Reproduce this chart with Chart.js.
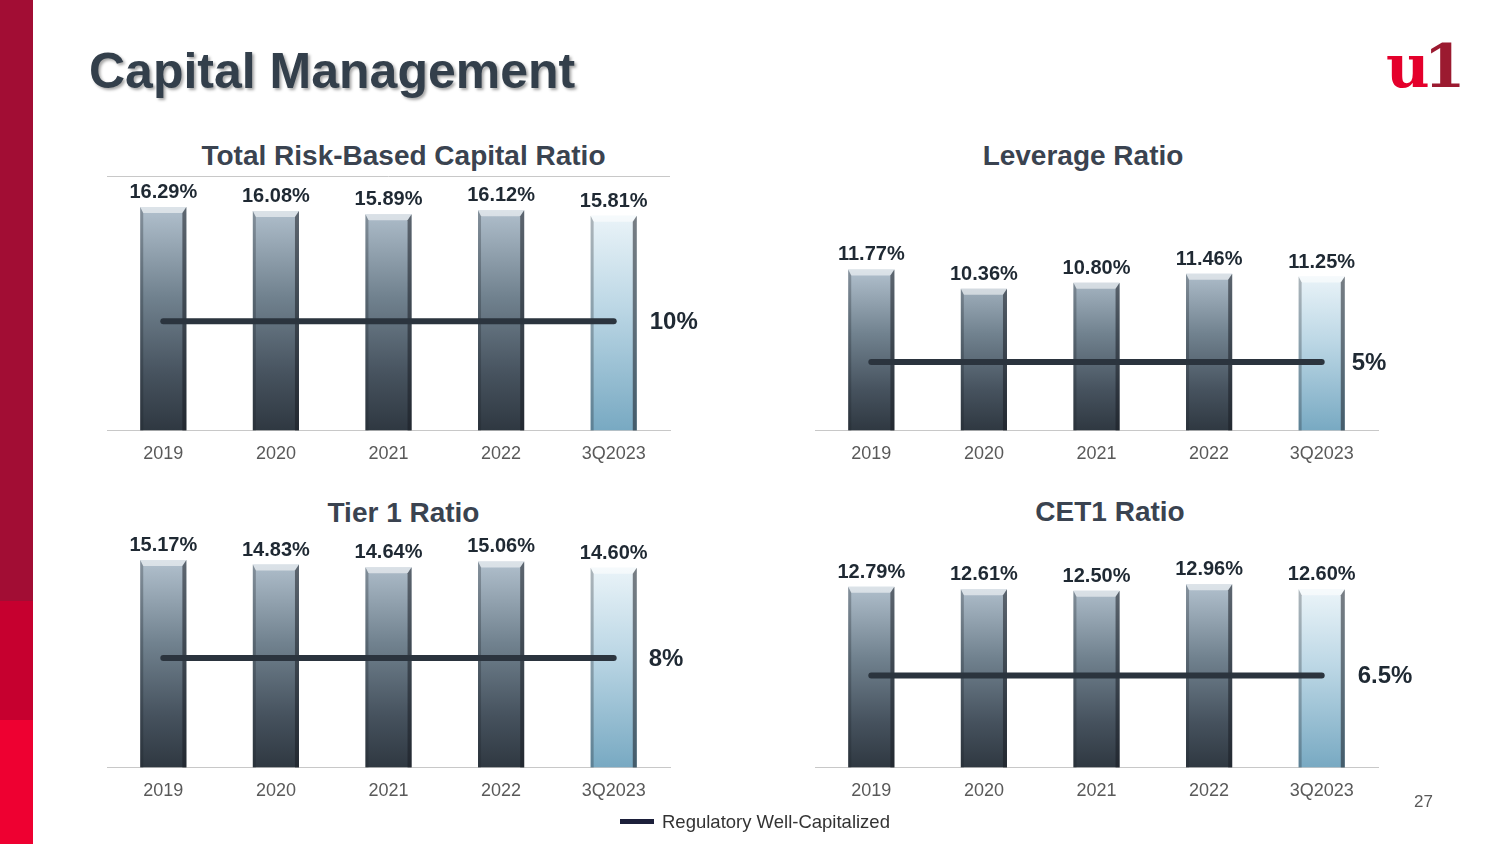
<!DOCTYPE html>
<html>
<head>
<meta charset="utf-8">
<script src="https://cdn.jsdelivr.net/npm/chart.js@4.4.0/dist/chart.umd.min.js"></script>
<style>
  body { margin: 0; width: 1500px; height: 844px; background: #ffffff; position: relative; overflow: hidden; font-family: 'Liberation Sans', Arial, sans-serif; }
  .stripe { position: absolute; left: 0; width: 33px; }
  .title { position: absolute; left: 89px; top: 42px; font-size: 50px; font-weight: bold; color: #333f4b; text-shadow: 2px 2px 3px rgba(0,0,0,0.35); }
  .chartTitle { position: absolute; font-size: 28px; font-weight: bold; color: #3a4350; text-align: center; }
  .box { position: absolute; width: 620px; height: 311px; }
  .logo { position: absolute; left: 1386px; top: 36px; font-family: 'DejaVu Serif', serif; font-weight: bold; font-size: 60px; line-height: 1; letter-spacing: -6px; }
  .legend { position: absolute; left: 620px; top: 811px; font-size: 18.5px; color: #333333; }
  .legend span { display: inline-block; width: 34px; height: 5px; background: #1c1f3a; vertical-align: middle; margin-right: 8px; position: relative; top: -2px; }
  .page { position: absolute; left: 1414px; top: 792px; font-size: 17px; color: #595959; }
</style>
</head>
<body>
<div class="stripe" style="top:0;height:601px;background:#a20d34;"></div>
<div class="stripe" style="top:601px;height:119px;background:#c6002f;"></div>
<div class="stripe" style="top:720px;height:124px;background:#ee0031;"></div>

<div class="title">Capital Management</div>
<div class="logo"><span style="color:#e4002b">u</span><span style="color:#9b1a30">1</span></div>

<div class="chartTitle" style="left:107px;width:593px;top:140px;">Total Risk-Based Capital Ratio</div>
<div class="chartTitle" style="left:815px;width:536px;top:140px;">Leverage Ratio</div>
<div class="chartTitle" style="left:107px;width:593px;top:497px;">Tier 1 Ratio</div>
<div class="chartTitle" style="left:815px;width:590px;top:496px;">CET1 Ratio</div>

<div class="box" style="left:107px;top:170px;"><canvas id="trbcChart"></canvas></div>
<div class="box" style="left:815px;top:170px;"><canvas id="leverageChart"></canvas></div>
<div class="box" style="left:107px;top:507px;"><canvas id="tier1Chart"></canvas></div>
<div class="box" style="left:815px;top:507px;"><canvas id="cet1Chart"></canvas></div>

<div class="legend"><span></span>Regulatory Well-Capitalized</div>
<div class="page">27</div>

<script>
var categories = ['2019', '2020', '2021', '2022', '3Q2023'];

var totalRiskBased = [16.29, 16.08, 15.89, 16.12, 15.81];
var leverage = [11.77, 10.36, 10.80, 11.46, 11.25];
var tier1 = [15.17, 14.83, 14.64, 15.06, 14.60];
var cet1 = [12.79, 12.61, 12.50, 12.96, 12.60];

var trbcMinimum = [10, 10, 10, 10, 10];
var leverageMinimum = [5, 5, 5, 5, 5];
var tier1Minimum = [8, 8, 8, 8, 8];
var cet1Minimum = [6.5, 6.5, 6.5, 6.5, 6.5];

Chart.defaults.font.family = "'Liberation Sans', Arial, sans-serif";

// Bar fill: dark steel for the years, pale blue for the latest quarter
function barFill(context)
{
  var chart = context.chart;
  var y = chart.scales.y;

  if (!y || !chart.chartArea)
  {
    return '#6b7c8c';
  }

  var values = context.dataset.data;
  var top = y.getPixelForValue(Math.max(...values));
  var bottom = chart.chartArea.bottom;
  var g = chart.ctx.createLinearGradient(0, top, 0, bottom);

  if (context.dataIndex === values.length - 1)
  {
    g.addColorStop(0, '#eef6fa');
    g.addColorStop(0.45, '#bcd7e5');
    g.addColorStop(1, '#78a9c2');
  }
  else
  {
    g.addColorStop(0, '#b2c1ce');
    g.addColorStop(0.4, '#71828f');
    g.addColorStop(0.75, '#46525e');
    g.addColorStop(1, '#2f3841');
  }

  return g;
}

// Bevelled edges, value labels and the threshold label
var slidePlugin = {
  id: 'slide',
  afterDatasetsDraw: function (chart, args, opts)
  {
    var ctx = chart.ctx;
    var bars = chart.getDatasetMeta(1);
    var line = chart.getDatasetMeta(0);

    ctx.save();

    bars.data.forEach(function (bar, i) {
      var p = bar.getProps(['x', 'y', 'base', 'width'], true);
      var l = p.x - p.width / 2;
      var r = p.x + p.width / 2;

      ctx.fillStyle = 'rgba(255,255,255,0.55)';
      ctx.beginPath();
      ctx.moveTo(l, p.y);
      ctx.lineTo(r, p.y);
      ctx.lineTo(r - 4, p.y + 6);
      ctx.lineTo(l + 3, p.y + 6);
      ctx.closePath();
      ctx.fill();

      ctx.fillStyle = 'rgba(25,30,36,0.55)';
      ctx.beginPath();
      ctx.moveTo(r, p.y);
      ctx.lineTo(r, p.base);
      ctx.lineTo(r - 4, p.base);
      ctx.lineTo(r - 4, p.y + 6);
      ctx.closePath();
      ctx.fill();

      ctx.fillStyle = 'rgba(30,36,42,0.3)';
      ctx.beginPath();
      ctx.moveTo(l, p.y);
      ctx.lineTo(l + 3, p.y + 6);
      ctx.lineTo(l + 3, p.base);
      ctx.lineTo(l, p.base);
      ctx.closePath();
      ctx.fill();
    });

    // the threshold line sits on top of the bars
    ctx.restore();
    line.controller.draw();
    ctx.save();

    ctx.fillStyle = '#1f2933';
    ctx.font = 'bold 20px "Liberation Sans", Arial, sans-serif';
    ctx.textAlign = 'center';
    ctx.textBaseline = 'alphabetic';

    bars.data.forEach(function (bar, i) {
      var value = chart.data.datasets[1].data[i];

      ctx.fillText(value.toFixed(2) + '%', bar.x, bar.y - 9);
    });

    var last = line.data[line.data.length - 1];
    var limit = chart.data.datasets[0].data[0];

    ctx.font = 'bold 24px "Liberation Sans", Arial, sans-serif';
    ctx.textAlign = 'left';
    ctx.textBaseline = 'middle';
    ctx.fillText(limit + '%', last.x + opts.labelGap, last.y + 1);

    if (opts.topRule)
    {
      ctx.strokeStyle = '#c8c8c8';
      ctx.lineWidth = 1;
      ctx.beginPath();
      ctx.moveTo(chart.chartArea.left, chart.chartArea.top + 0.5);
      ctx.lineTo(chart.chartArea.right, chart.chartArea.top + 0.5);
      ctx.stroke();
    }

    ctx.restore();
  }
};

function makeChart(id, values, minimum, yMin, yMax, topRule, labelGap)
{
  return new Chart(document.getElementById(id), {

    type: 'bar',

    data: {
      labels: categories,

      datasets: [
        {
          type: 'line',
          label: 'Regulatory Well-Capitalized',
          data: minimum,
          borderColor: '#2b343e',
          borderWidth: 6,
          borderCapStyle: 'round',
          pointRadius: 0
        },
        {
          label: 'Ratio',
          data: values,
          base: yMin,
          backgroundColor: barFill,
          barPercentage: 0.41,
          categoryPercentage: 1
        }
      ]
    },

    options: {
      responsive: true,
      maintainAspectRatio: false,
      animation: false,
      layout: {
        padding: { top: 6, right: 57, left: 0, bottom: 3 }
      },
      scales: {
        x: {
          offset: true,
          grid: { display: false, drawTicks: false },
          border: { display: true, color: '#c8c8c8', width: 1 },
          ticks: {
            color: '#595959',
            font: { size: 18 },
            padding: 13
          }
        },
        y: {
          display: false,
          min: yMin,
          max: yMax
        }
      },
      plugins: {
        legend: { display: false },
        tooltip: { enabled: false },
        slide: { topRule: topRule, labelGap: labelGap }
      }
    },

    plugins: [slidePlugin]
  });
}

// the line dataset is redrawn by the plugin, so skip its normal pass
Chart.register({
  id: 'skipLine',
  beforeDatasetDraw: function (chart, args) {
    if (args.index === 0) {
      return false;
    }
  }
});

var trbcChart = makeChart('trbcChart', totalRiskBased, trbcMinimum, 4, 18, true, 36);
var leverageChart = makeChart('leverageChart', leverage, leverageMinimum, 0, 18.6, false, 30);
var tier1Chart = makeChart('tier1Chart', tier1, tier1Minimum, 0, 18.6, false, 35);
var cet1Chart = makeChart('cet1Chart', cet1, cet1Minimum, 0, 18, false, 36);
</script>
</body>
</html>
